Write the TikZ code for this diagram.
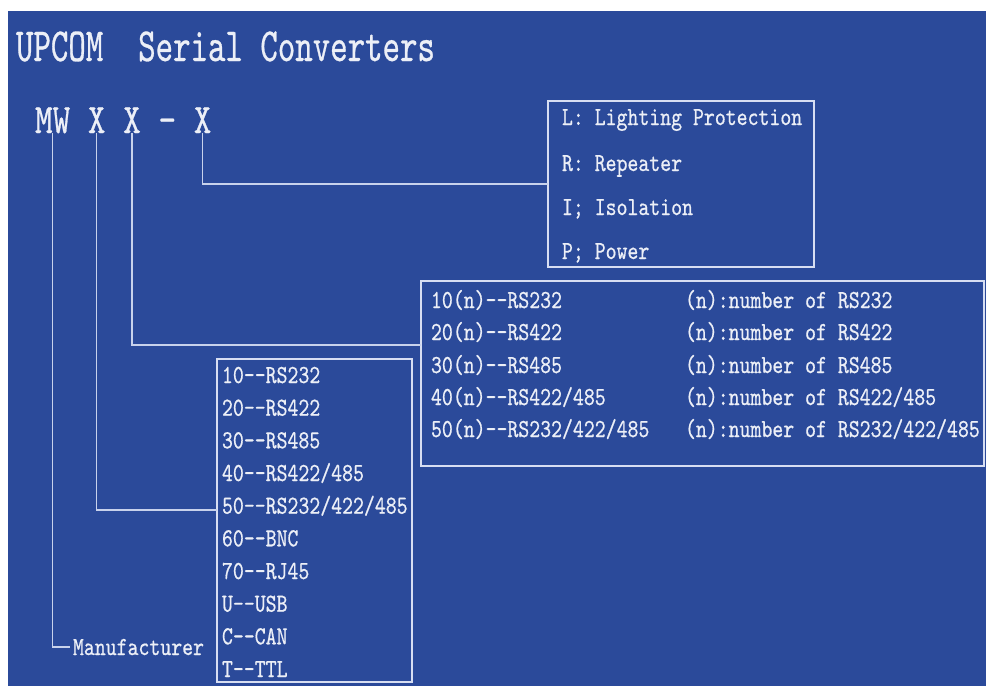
\documentclass[tikz,border=0pt]{standalone}
\usepackage{fontspec}
\newfontfamily\bodyfont{lmmono10-regular.otf}[FakeStretch=0.8,FakeBold=0.6]
\newfontfamily\titlefont{lmmono10-regular.otf}[FakeStretch=0.7,FakeBold=0.6]
\definecolor{bg}{RGB}{43,74,154}
\definecolor{txt}{RGB}{236,239,247}
\definecolor{ln}{RGB}{200,210,236}
\definecolor{bx}{RGB}{215,222,242}
\newcommand\dd{-\kern0pt-}
\begin{document}
\begin{tikzpicture}[x=1pt,y=-1pt,
  every node/.style={inner sep=0pt,outer sep=0pt,text=txt},
  rowtext/.style={anchor=base west,font=\bodyfont\fontsize{26}{30}\selectfont},
  codechar/.style={anchor=base west,font=\bodyfont\fontsize{42}{46}\selectfont},
  boxframe/.style={draw=bx,line width=1.8pt,anchor=north west,minimum width=#1},
  conn/.style={draw=ln,line width=1.3pt}]
\useasboundingbox (0,0) rectangle (986,686);
\fill[white] (0,0) rectangle (986,686);
\fill[bg] (8,11) rectangle (986,686);

% title
\node[anchor=base west,font=\titlefont\fontsize{47.5}{50}\selectfont] (title) at (16,61) {UPCOM~~Serial Converters};

% code
\node[codechar] (mw) at (35,133) {MW};
\node[codechar] (xa) at (87.9,133) {X};
\node[codechar] (xb) at (123.2,133) {X};
\node[codechar] (dash) at (158.5,133) {-};
\node[codechar] (xc) at (193.8,133) {X};

% box 1
\node[boxframe=266pt,minimum height=166pt] (b1) at (548,101) {};
\node[rowtext] (l1) at (562,125) {L: Lighting Protection};
\node[rowtext] (l2) at (562,171) {R: Repeater};
\node[rowtext] (l3) at (562,215) {I; Isolation};
\node[rowtext] (l4) at (562,259) {P; Power};

% box 2
\node[boxframe=563pt,minimum height=185pt] (b2) at (421,281) {};
\node[rowtext] (m1) at (431,308) {10(n)\dd RS232};
\node[rowtext] (m2) at (431,340) {20(n)\dd RS422};
\node[rowtext] (m3) at (431,373) {30(n)\dd RS485};
\node[rowtext] (m4) at (431,405) {40(n)\dd RS422/485};
\node[rowtext] (m5) at (431,437) {50(n)\dd RS232/422/485};
\node[rowtext] (n1) at (685,308) {(n):number of RS232};
\node[rowtext] (n2) at (685,340) {(n):number of RS422};
\node[rowtext] (n3) at (685,373) {(n):number of RS485};
\node[rowtext] (n4) at (685,405) {(n):number of RS422/485};
\node[rowtext] (n5) at (685,437) {(n):number of RS232/422/485};

% box 3
\node[boxframe=195pt,minimum height=323pt] (b3) at (217,359) {};
\node[rowtext] (r1) at (222,383) {10\dd RS232};
\node[rowtext] (r2) at (222,415.7) {20\dd RS422};
\node[rowtext] (r3) at (222,448.3) {30\dd RS485};
\node[rowtext] (r4) at (222,481) {40\dd RS422/485};
\node[rowtext] (r5) at (222,513.7) {50\dd RS232/422/485};
\node[rowtext] (r6) at (222,546.3) {60\dd BNC};
\node[rowtext] (r7) at (222,579) {70\dd RJ45};
\node[rowtext] (r8) at (222,611.7) {U\dd USB};
\node[rowtext] (r9) at (222,644.3) {C\dd CAN};
\node[rowtext] (r10) at (222,677) {T\dd TTL};

% manufacturer
\node[rowtext,inner xsep=3pt] (manu) at (70,655) {Manufacturer};

% connectors
\coordinate (k1) at (217,510);
\coordinate (k2) at (421,345);
\draw[conn] (mw.south) |- (manu.west);
\draw[conn] (xa.south) |- (k1);
\draw[conn] (xb.south) |- (k2);
\draw[conn] (xc.south) |- (b1.west);
\end{tikzpicture}
\end{document}
